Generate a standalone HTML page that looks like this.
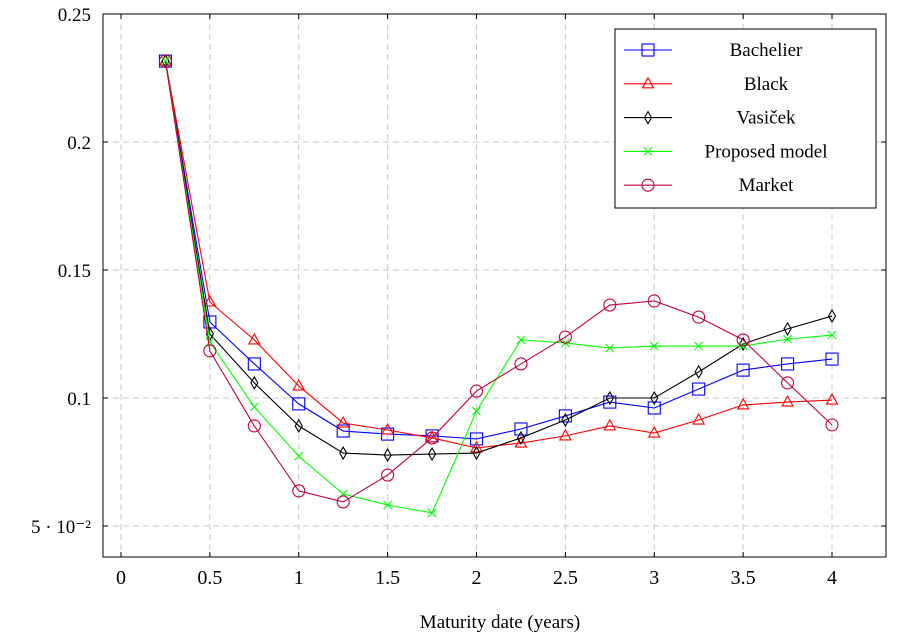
<!DOCTYPE html>
<html><head><meta charset="utf-8"><style>
body{margin:0;background:#fff}
text{font-family:"Liberation Serif",serif;fill:#000}
</style></head><body>
<svg id="chart" width="906" height="636" xmlns="http://www.w3.org/2000/svg"></svg>
<script>
const xs=[0.25,0.5,0.75,1,1.25,1.5,1.75,2,2.25,2.5,2.75,3,3.25,3.5,3.75,4];
const bachelier=[0.2316,0.1297,0.1133,0.0977,0.0871,0.0859,0.0852,0.0840,0.0879,0.0930,0.0984,0.0961,0.1035,0.1109,0.1133,0.1152];
const black=[0.2316,0.1375,0.1227,0.1047,0.0902,0.0875,0.0844,0.0805,0.0824,0.0852,0.0891,0.0863,0.0914,0.0973,0.0984,0.0992];
const vasicek=[0.2316,0.125,0.1059,0.0891,0.0785,0.0777,0.0781,0.0785,0.0844,0.0914,0.1,0.1,0.1102,0.1211,0.1270,0.1320];
const proposed=[0.2316,0.1219,0.0965,0.0773,0.0625,0.0582,0.0551,0.0949,0.1227,0.1215,0.1195,0.1203,0.1203,0.1203,0.1230,0.1246];
const market=[0.2316,0.1184,0.0891,0.0637,0.0594,0.0699,0.0844,0.1027,0.1133,0.1238,0.1363,0.1379,0.1316,0.1227,0.1059,0.0895];
const xTicks=[0,0.5,1,1.5,2,2.5,3,3.5,4];
const xTickLabels=["0","0.5","1","1.5","2","2.5","3","3.5","4"];
const yTicks=[0.05,0.1,0.15,0.2,0.25];
const yTickLabels=["5 · 10⁻²","0.1","0.15","0.2","0.25"];
const seriesNames=["Bachelier","Black","Vasiček","Proposed model","Market"];

const svg=document.getElementById('chart');
const NS='http://www.w3.org/2000/svg';
const L=103,R=886,T=14,B=557;
const X=v=>121+v*177.75;
const Y=v=>14+(0.25-v)*2560;
function mk(tag,attrs,parent){const e=document.createElementNS(NS,tag);for(const k in attrs)e.setAttribute(k,attrs[k]);(parent||svg).appendChild(e);return e;}

xTicks.forEach((t,i)=>{
 const g=mk('line',{x1:X(t),x2:X(t),y1:T,y2:B,stroke:'#c8c8c8','stroke-dasharray':'6 4'});
 
 
 mk('line',{x1:X(t),x2:X(t),y1:B,y2:B-5,stroke:'#000'});
 mk('line',{x1:X(t),x2:X(t),y1:T,y2:T+5,stroke:'#000'});
 const tx=mk('text',{x:X(t),y:B+27,'text-anchor':'middle','font-size':20});
 tx.textContent=xTickLabels[i];
 
 
});
yTicks.forEach((t,i)=>{
 const g=mk('line',{x1:L,x2:R,y1:Y(t),y2:Y(t),stroke:'#c8c8c8','stroke-dasharray':'6 4'});
 
 
 mk('line',{x1:L,x2:L+5,y1:Y(t),y2:Y(t),stroke:'#000'});
 mk('line',{x1:R,x2:R-5,y1:Y(t),y2:Y(t),stroke:'#000'});
 const tx=mk('text',{x:L-12,y:Y(t)+7,'text-anchor':'end','font-size':19});
 tx.textContent=yTickLabels[i];
 
 
});
const frame=mk('rect',{x:L,y:T,width:R-L,height:B-T,fill:'none',stroke:'#000','stroke-width':1});


const xt=mk('text',{x:500,y:628,'text-anchor':'middle','font-size':19});
xt.textContent='Maturity date (years)';



function marker(type,x,y,color,parent){
 const a={fill:'none',stroke:color,'stroke-width':1.1};
 let e;
 if(type==='sq'){e=mk('rect',Object.assign({x:x-6,y:y-6,width:12,height:12},a),parent);}
 else if(type==='tri'){e=mk('polygon',Object.assign({points:`${x},${y-6} ${x-5.5},${y+4} ${x+5.5},${y+4}`},a),parent);}
 else if(type==='dia'){e=mk('polygon',Object.assign({points:`${x},${y-6} ${x-3.5},${y} ${x},${y+6} ${x+3.5},${y}`},a),parent);}
 else if(type==='x'){e=mk('path',Object.assign({d:`M${x-4},${y-4}L${x+4},${y+4}M${x-4},${y+4}L${x+4},${y-4}`},a),parent);}
 else {e=mk('circle',Object.assign({cx:x,cy:y,r:6},a),parent);}
 return e;
}
const series=[[bachelier,'#0000ff','sq','bachelier'],[black,'#ff0000','tri','black'],[vasicek,'#000000','dia','vasicek'],[proposed,'#00ff00','x','proposed-model'],[market,'#bf0040','o','market']];
series.forEach(([d,c,m,n])=>{
 const g=mk('g',{});
 
 
 const pl=mk('polyline',{points:d.map((v,i)=>X(xs[i])+','+Y(v)).join(' '),fill:'none',stroke:c,'stroke-width':1.1},g);
 
 
 d.forEach((v,i)=>{const e=marker(m,X(xs[i]),Y(v),c,g);
  
  });
});
const lg=mk('g',{});


mk('rect',{x:615,y:29,width:261,height:179,fill:'#fff',stroke:'#000'},lg);
series.forEach(([d,c,m,n],i)=>{
 const y=50+i*33.8;
 const g=mk('g',{},lg);
 
 
 mk('line',{x1:624,x2:672,y1:y,y2:y,stroke:c,'stroke-width':1.1},g);
 marker(m,648,y,c,g);
 const t=mk('text',{x:766,y:y+6,'text-anchor':'middle','font-size':19},g);
 t.textContent=seriesNames[i];
});
</script>
</body></html>
